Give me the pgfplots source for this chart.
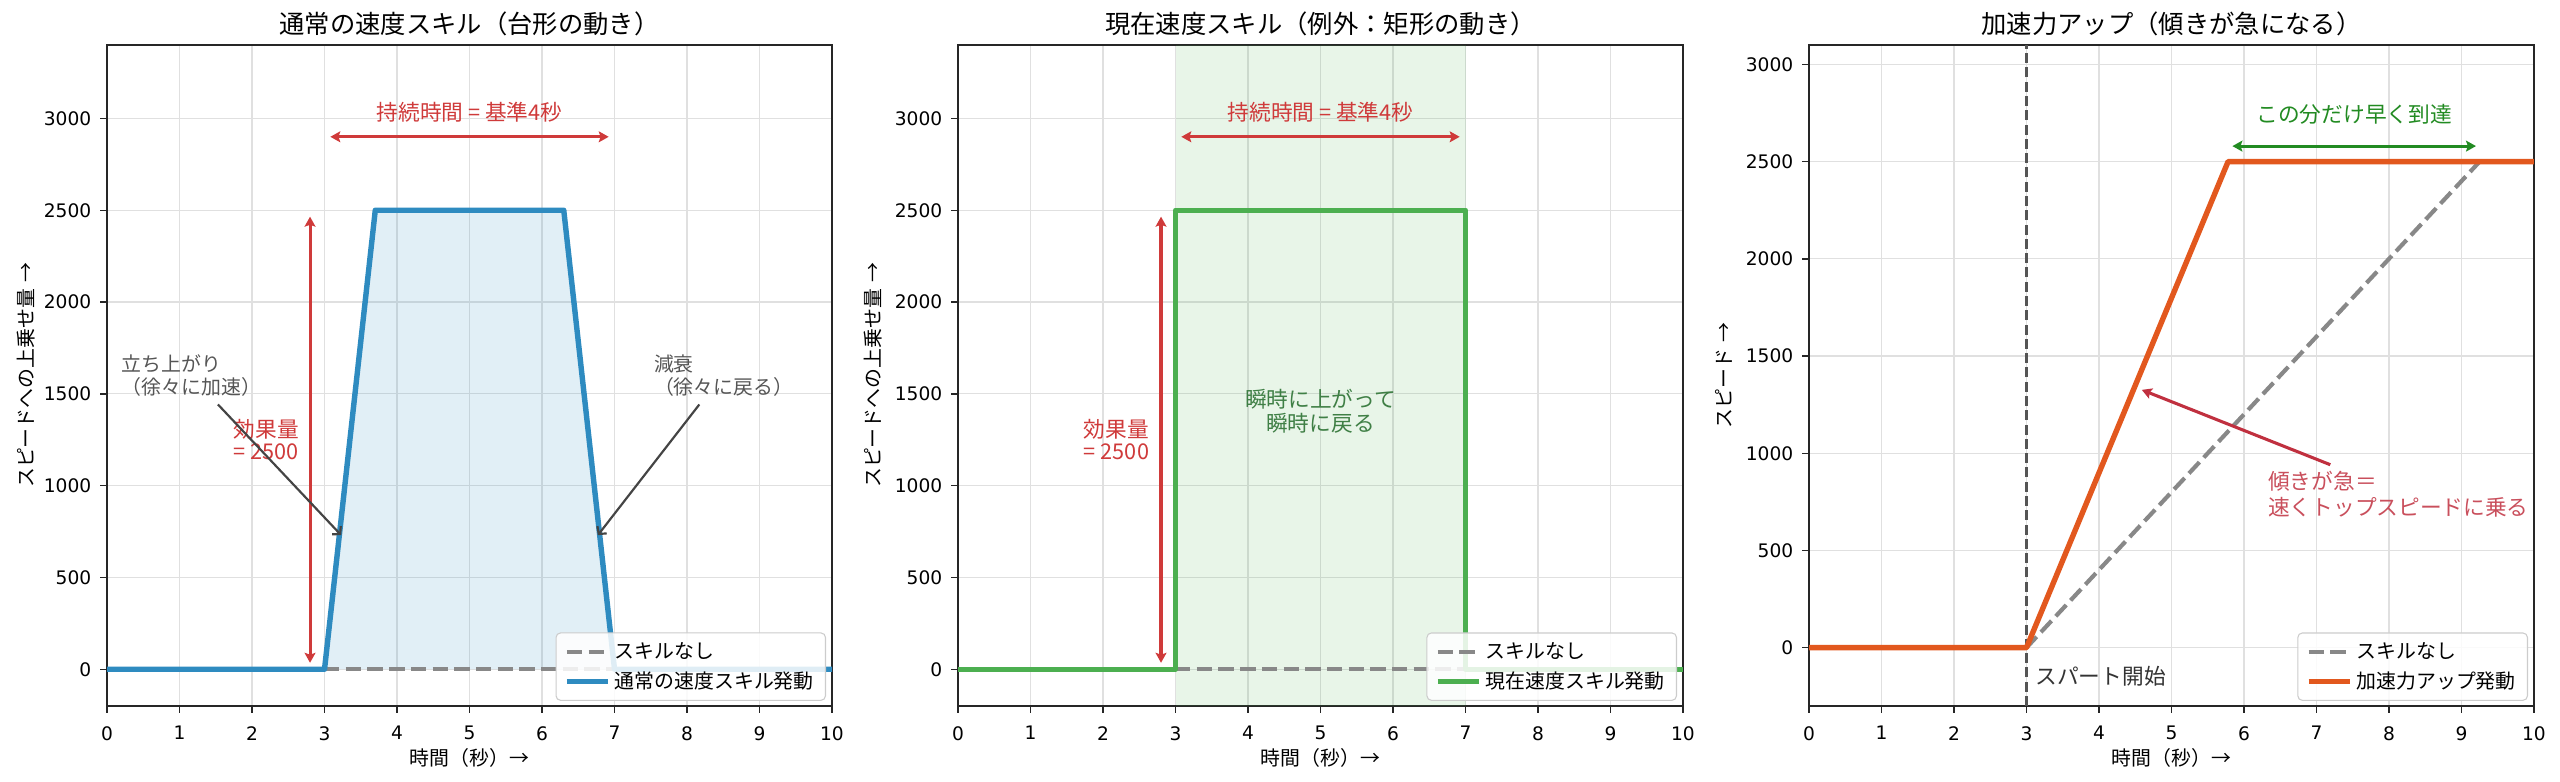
\documentclass[border=0pt]{standalone}
\usepackage{fontspec}
\setmainfont{Noto Sans CJK JP}
\newfontfamily\tickfont{DejaVu Sans}
\usepackage{pgfplots}
\pgfplotsset{compat=1.18}
\usetikzlibrary{arrows.meta}

\definecolor{cblue}{HTML}{2E8BC0}
\definecolor{cgreen}{HTML}{4CAF50}
\definecolor{corange}{HTML}{E2581E}
\definecolor{cred}{HTML}{CF3A3A}
\definecolor{cred3}{HTML}{C0303F}
\definecolor{cgray}{HTML}{888888}
\definecolor{cdgray}{HTML}{555555}
\definecolor{cgtext}{HTML}{555555}
\definecolor{cgarrow}{HTML}{444444}
\definecolor{cdgreen}{HTML}{3F7F45}
\definecolor{cforest}{HTML}{228B22}

\pgfplotsset{
  panel/.style={
    scale only axis, width=400.9pt, height=365.5pt, anchor=south west,
    xmin=0, xmax=10, xtick={0,1,...,10},
    ytick={0,500,...,3000},
    scaled y ticks=false,
    grid=major, major grid style={line width=0.7pt, black!12},
    axis line style={line width=0.8pt, black!85},
    tick align=outside, tick pos=left, major tick length=3.7pt,
    tick style={line width=0.8pt, black!85},
    /pgf/number format/assume math mode=true,
    /pgf/number format/set thousands separator={},
    xticklabel={\tickfont\pgfmathprintnumber{\tick}},
    yticklabel={\tickfont\pgfmathprintnumber{\tick}},
    ticklabel style={font=\tickfont\fontsize{10.3}{12}\selectfont},
    xticklabel style={yshift=-4pt},
    yticklabel style={xshift=-1.5pt},
    every axis title/.style={at={([yshift=11.6pt]axis description cs:0.5,1)}, anchor=center, font=\fontsize{14}{16}\selectfont},
    every axis x label/.style={at={([yshift=-28.6pt]axis description cs:0.5,0)}, anchor=center, font=\fontsize{11}{13}\selectfont},
    every axis y label/.style={at={([xshift=-47pt]axis description cs:0,0.5)}, rotate=90, anchor=center, font=\fontsize{11}{13}\selectfont},
    xlabel={時間（秒）→},
    legend style={at={(axis description cs:1,0)}, anchor=south east, xshift=-3.3pt, yshift=2.8pt,
      draw=black!20, line width=0.6pt, rounded corners=2.5pt, fill=white, fill opacity=0.85, text opacity=1,
      font=\fontsize{11}{13}\selectfont, inner xsep=4.5pt, inner ysep=3.2pt, row sep=1.8pt},
    legend cell align=left,
    legend image code/.code={\draw[##1] (0pt,0pt) -- (23pt,0pt);},
  },
  noskill/.style={cgray, line width=2.3pt, dash pattern=on 8.5pt off 3.5pt},
}

\begin{document}
\begin{tikzpicture}
\useasboundingbox (0,0) rectangle (1415.7pt,432.4pt);

% ---- panel 1: trapezoid
\begin{axis}[panel, at={(59.2pt,42pt)}, ymin=-200, ymax=3400,
  title={通常の速度スキル（台形の動き）}, ylabel={スピードへの上乗せ量\hspace{0.3em}→},
  every axis y label/.append style={at={([xshift=-44.6pt]axis description cs:0,0.5)}}]
  \addplot[draw=none, fill=cblue, fill opacity=0.14, forget plot]
    coordinates {(3,0) (3.7,2500) (6.3,2500) (7,0)} -- cycle;
  \addplot[noskill] coordinates {(0,0) (10,0)};
  \addlegendentry{スキルなし}
  \addplot[cblue, line width=3pt, line join=round]
    coordinates {(0,0) (3,0) (3.7,2500) (6.3,2500) (7,0) (10,0)};
  \addlegendentry{通常の速度スキル発動}
  % annotations
  \draw[cred, line width=1.7pt, {Stealth[length=5.5pt,width=6pt,inset=1pt]}-{Stealth[length=5.5pt,width=6pt,inset=1pt]}]
    (axis cs:2.8,35) -- (axis cs:2.8,2465);
  \node[anchor=east, align=right, text=cred, inner sep=0pt, font=\fontsize{12}{12.5}\selectfont]
    at (axis cs:2.65,1250) {効果量\\= 2500};
  \draw[cred, line width=1.7pt, {Stealth[length=5.5pt,width=6pt,inset=1pt]}-{Stealth[length=5.5pt,width=6pt,inset=1pt]}]
    (axis cs:3.08,2900) -- (axis cs:6.92,2900);
  \node[text=cred, inner sep=0pt, font=\fontsize{12}{14}\selectfont] at (axis cs:5,3036) {持続時間 = 基準4秒};
  \node[anchor=west, align=left, text=cgtext, inner sep=0pt, font=\fontsize{11}{12.5}\selectfont]
    at (axis cs:0.2,1600) {立ち上がり\\（徐々に加速）};
  \draw[cgarrow, line width=1.2pt, -{Straight Barb[length=3pt,width=6.5pt]}]
    (axis cs:1.53,1442) -- (axis cs:3.23,730);
  \node[anchor=west, align=left, text=cgtext, inner sep=0pt, font=\fontsize{11}{12.5}\selectfont]
    at (axis cs:7.54,1600) {減衰\\（徐々に戻る）};
  \draw[cgarrow, line width=1.2pt, -{Straight Barb[length=3pt,width=6.5pt]}]
    (axis cs:8.17,1442) -- (axis cs:6.77,730);
\end{axis}

% ---- panel 2: rectangle
\begin{axis}[panel, at={(529.8pt,42pt)}, ymin=-200, ymax=3400,
  title={現在速度スキル（例外：矩形の動き）}, ylabel={スピードへの上乗せ量\hspace{0.3em}→}]
  \addplot[draw=none, fill=cgreen, fill opacity=0.13, forget plot]
    coordinates {(3,-200) (3,3400) (7,3400) (7,-200)} -- cycle;
  \addplot[noskill] coordinates {(0,0) (10,0)};
  \addlegendentry{スキルなし}
  \addplot[cgreen, line width=3pt, line join=round]
    coordinates {(0,0) (3,0) (3,2500) (7,2500) (7,0) (10,0)};
  \addlegendentry{現在速度スキル発動}
  \draw[cred, line width=1.7pt, {Stealth[length=5.5pt,width=6pt,inset=1pt]}-{Stealth[length=5.5pt,width=6pt,inset=1pt]}]
    (axis cs:2.8,35) -- (axis cs:2.8,2465);
  \node[anchor=east, align=right, text=cred, inner sep=0pt, font=\fontsize{12}{12.5}\selectfont]
    at (axis cs:2.64,1250) {効果量\\= 2500};
  \draw[cred, line width=1.7pt, {Stealth[length=5.5pt,width=6pt,inset=1pt]}-{Stealth[length=5.5pt,width=6pt,inset=1pt]}]
    (axis cs:3.08,2900) -- (axis cs:6.92,2900);
  \node[text=cred, inner sep=0pt, font=\fontsize{12}{14}\selectfont] at (axis cs:5,3036) {持続時間 = 基準4秒};
  \node[align=center, text=cdgreen, inner sep=0pt, font=\fontsize{12}{13.5}\selectfont]
    at (axis cs:5,1405) {瞬時に上がって\\瞬時に戻る};
\end{axis}

% ---- panel 3: acceleration
\begin{axis}[panel, at={(1000.4pt,42pt)}, ymin=-300, ymax=3100,
  title={加速力アップ（傾きが急になる）}, ylabel={スピード\hspace{0.3em}→}]
  \addplot[cdgray, line width=1.5pt, dash pattern=on 5.5pt off 2.4pt, forget plot]
    coordinates {(3,-300) (3,3100)};
  \addplot[noskill] coordinates {(0,0) (3,0) (9.25,2500) (10,2500)};
  \addlegendentry{スキルなし}
  \addplot[corange, line width=3pt, line join=round]
    coordinates {(0,0) (3,0) (5.78,2500) (10,2500)};
  \addlegendentry{加速力アップ発動}
  \node[anchor=west, text=black!80, inner sep=0pt, font=\fontsize{12}{14}\selectfont]
    at (axis cs:3.12,-146) {スパート開始};
  \draw[cforest, line width=1.7pt, {Stealth[length=5.5pt,width=6pt,inset=1pt]}-{Stealth[length=5.5pt,width=6pt,inset=1pt]}]
    (axis cs:5.84,2580) -- (axis cs:9.2,2580);
  \node[text=cforest, inner sep=0pt, font=\fontsize{12}{14}\selectfont] at (axis cs:7.52,2745) {この分だけ早く到達};
  \draw[cred3, line width=1.7pt, -{Stealth[length=5.5pt,width=6pt,inset=1pt]}]
    (axis cs:7.19,941) -- (axis cs:4.59,1326);
  \node[anchor=west, align=left, text=cred3!85!white, inner sep=0pt, font=\fontsize{12}{14.5}\selectfont]
    at (axis cs:6.33,791) {傾きが急＝\\速くトップスピードに乗る};
\end{axis}
\end{tikzpicture}
\end{document}
